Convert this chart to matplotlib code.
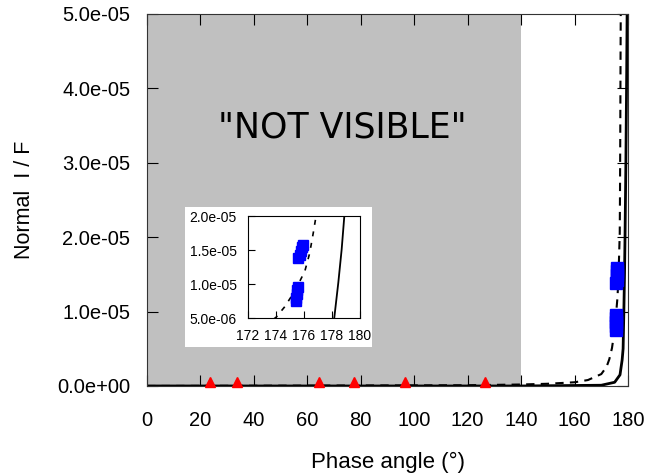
import numpy as np
import matplotlib
matplotlib.use('Agg')
import matplotlib.pyplot as plt
from matplotlib.ticker import FuncFormatter

plt.rcParams['font.family'] = ['Liberation Sans', 'DejaVu Sans']

# model curves
dash_x = [0, 120, 140, 150, 160, 165, 170, 172, 173, 174, 174.6, 175.2, 175.6,
          176.06, 176.4, 176.66, 176.9, 177.0, 177.1, 177.2, 177.3]
dash_y = [0, 1e-7, 2e-7, 3e-7, 5e-7, 8e-7, 1.6e-6, 2.6e-6, 3.6e-6, 5.1e-6, 6.6e-6,
          8.5e-6, 1.0e-5, 1.19e-5, 1.45e-5, 1.75e-5, 2.05e-5, 2.6e-5, 3.4e-5, 4.4e-5, 5.2e-5]
solid_x = [0, 140, 170, 175, 177, 177.8, 178.16, 178.45, 178.69, 178.88, 179.2, 179.5, 179.7]
solid_y = [0, 0, 1e-7, 5e-7, 1.5e-6, 3.5e-6, 5e-6, 1.02e-5, 1.51e-5, 2e-5, 3e-5, 4.2e-5, 5.2e-5]

# observations
obs_hi_x = [175.6, 175.7, 175.8, 175.85, 175.9]
obs_hi_y = [1.38e-5, 1.43e-5, 1.49e-5, 1.54e-5, 1.58e-5]
obs_lo_x = [175.4, 175.45, 175.5, 175.5, 175.55]
obs_lo_y = [7.5e-6, 8.0e-6, 8.6e-6, 9.1e-6, 9.6e-6]
tri_x = [23.5, 33.5, 64.5, 77.5, 96.5, 126.5]
tri_y = [6e-7] * len(tri_x)

def sci(v, pos):
    return '%.1e' % v

fig = plt.figure(figsize=(6.51, 4.76), dpi=100)
ax = fig.add_axes([0.2258, 0.1891, 0.7389, 0.7815])
ax.axvspan(0, 140, color='#c0c0c0', lw=0, zorder=0)
ax.plot(dash_x, dash_y, color='black', ls=(0, (4, 3)), lw=1.5, zorder=2)
ax.plot(solid_x, solid_y, color='black', lw=2, zorder=2)
for xs, ys in [(obs_hi_x, obs_hi_y), (obs_lo_x, obs_lo_y)]:
    ax.plot(xs, ys, ls='none', marker='s', ms=8, color='blue', zorder=3)
ax.plot(tri_x, tri_y, ls='none', marker='^', ms=7, color='red', zorder=3, clip_on=False)
ax.text(73, 3.47e-5, '"NOT VISIBLE"', family='DejaVu Sans', fontsize=25,
        ha='center', va='center')
ax.set_xlim(0, 180)
ax.set_ylim(0, 5e-5)
ax.set_xticks(range(0, 181, 20))
ax.set_yticks(np.arange(0, 5.01e-5, 1e-5))
ax.yaxis.set_major_formatter(FuncFormatter(sci))
ax.tick_params(direction='in', top=True, right=True, length=8, labelsize=14.5)
ax.tick_params(axis='x', pad=18)
ax.tick_params(axis='y', pad=12)
for s in ax.spines.values():
    s.set_color('#333333')
ax.set_xlabel('Phase angle (°)', fontsize=16, labelpad=16)
ax.set_ylabel('Normal  I / F', fontsize=15.5, labelpad=16)

# white panel behind inset
bg = fig.add_axes([0.2842, 0.2710, 0.2873, 0.2941])
bg.set_facecolor('white')
bg.set_xticks([])
bg.set_yticks([])
for s in bg.spines.values():
    s.set_visible(False)

ins = fig.add_axes([0.381, 0.3319, 0.172, 0.2143])
ins.plot(dash_x, dash_y, color='black', ls=(0, (3, 4)), lw=1.2)
ins.plot(solid_x, solid_y, color='black', lw=1.3)
for xs, ys in [(obs_hi_x, obs_hi_y), (obs_lo_x, obs_lo_y)]:
    ins.plot(xs, ys, ls='none', marker='s', ms=7, color='blue')
ins.set_xlim(172, 180)
ins.set_ylim(5e-6, 2e-5)
ins.set_xticks(range(172, 181, 2))
ins.set_yticks([5e-6, 1e-5, 1.5e-5, 2e-5])
ins.yaxis.set_major_formatter(FuncFormatter(sci))
ins.tick_params(direction='in', length=5, labelsize=10, pad=8)

fig.savefig('out.png', dpi=100)
